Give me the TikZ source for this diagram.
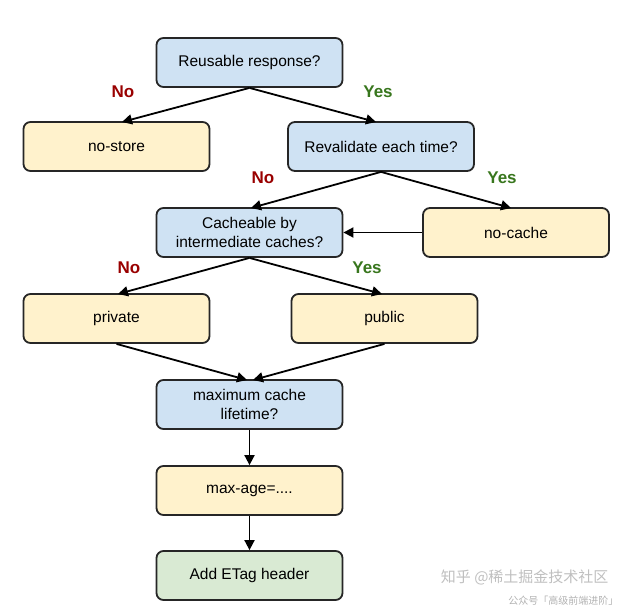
\documentclass[tikz,border=0pt]{standalone}
\usepackage{fontspec}
\setmainfont{Liberation Sans}
\newfontfamily\cjk{Noto Sans CJK SC}
\usetikzlibrary{arrows.meta}
\definecolor{qblue}{HTML}{CFE2F3}
\definecolor{qyellow}{HTML}{FFF2CC}
\definecolor{qgreen}{HTML}{D9EAD3}
\definecolor{nored}{HTML}{990000}
\definecolor{yesgreen}{HTML}{38761D}
\begin{document}
\begin{tikzpicture}[x=1pt,y=-1pt,
  box/.style={draw=black!85, line width=1.8pt, rounded corners=7pt, minimum width=186pt, minimum height=49pt, align=center, font=\fontsize{15.5}{18.5}\selectfont, inner sep=2pt},
  qbox/.style={box, fill=qblue},
  abox/.style={box, fill=qyellow},
  gbox/.style={box, fill=qgreen},
  conn/.style={line width=1.8pt, -{Triangle[length=10pt,width=10pt]}},
  nolab/.style={font=\bfseries\fontsize{17}{20}\selectfont, text=nored},
  yeslab/.style={font=\bfseries\fontsize{17}{20}\selectfont, text=yesgreen}]
\useasboundingbox (0,0) rectangle (626,615);
\node[qbox] (reuse) at (249.5,62.5) {Reusable response?};
\node[abox] (nostore) at (116.5,146.5) {no-store};
\node[qbox] (reval) at (381,146.5) {Revalidate each time?};
\node[qbox] (cache) at (249.5,232.5) {Cacheable by\\intermediate caches?};
\node[abox] (nocache) at (516,232.5) {no-cache};
\node[abox] (private) at (116.5,318.5) {private};
\node[abox] (public) at (384.5,318.5) {public};
\node[qbox] (maxlife) at (249.5,404.5) {maximum cache\\lifetime?};
\node[abox] (maxage) at (249.5,490.5) {max-age=....};
\node[gbox] (etag) at (249.5,575.5) {Add ETag header};

\node[nolab] (l1) at (123,92) {No};
\node[yeslab] (l2) at (378,92) {Yes};
\node[nolab] (l3) at (263,178) {No};
\node[yeslab] (l4) at (502,178) {Yes};
\node[nolab] (l5) at (129,268) {No};
\node[yeslab] (l6) at (367,268) {Yes};

\coordinate (nostoreT) at (122,122);
\coordinate (revalT) at (376,122);
\coordinate (cacheT) at (251,208);
\coordinate (nocacheT) at (511,208);
\coordinate (privateT) at (118,294);
\coordinate (publicT) at (382,294);
\coordinate (maxlifeTL) at (247,380);
\coordinate (maxlifeTR) at (253,380);

\draw[conn] (reuse.south) -- (nostoreT);
\draw[conn] (reuse.south) -- (revalT);
\draw[conn] (reval.south) -- (cacheT);
\draw[conn] (reval.south) -- (nocacheT);
\draw[conn] (nocache.west) -- (cache.east);
\draw[conn] (cache.south) -- (privateT);
\draw[conn] (cache.south) -- (publicT);
\draw[conn] (private.south) -- (maxlifeTL);
\draw[conn] (public.south) -- (maxlifeTR);
\draw[conn] (maxlife.south) -- (maxage.north);
\draw[conn] (maxage.south) -- (etag.north);

\node[text=black!25, font=\cjk\fontsize{15}{18}\selectfont, anchor=east] (wm1) at (612,577) {知乎 @稀土掘金技术社区};
\node[text=black!30, font=\cjk\fontsize{10}{12}\selectfont, anchor=east] (wm2) at (622,601) {公众号「高级前端进阶」};
\end{tikzpicture}
\end{document}
